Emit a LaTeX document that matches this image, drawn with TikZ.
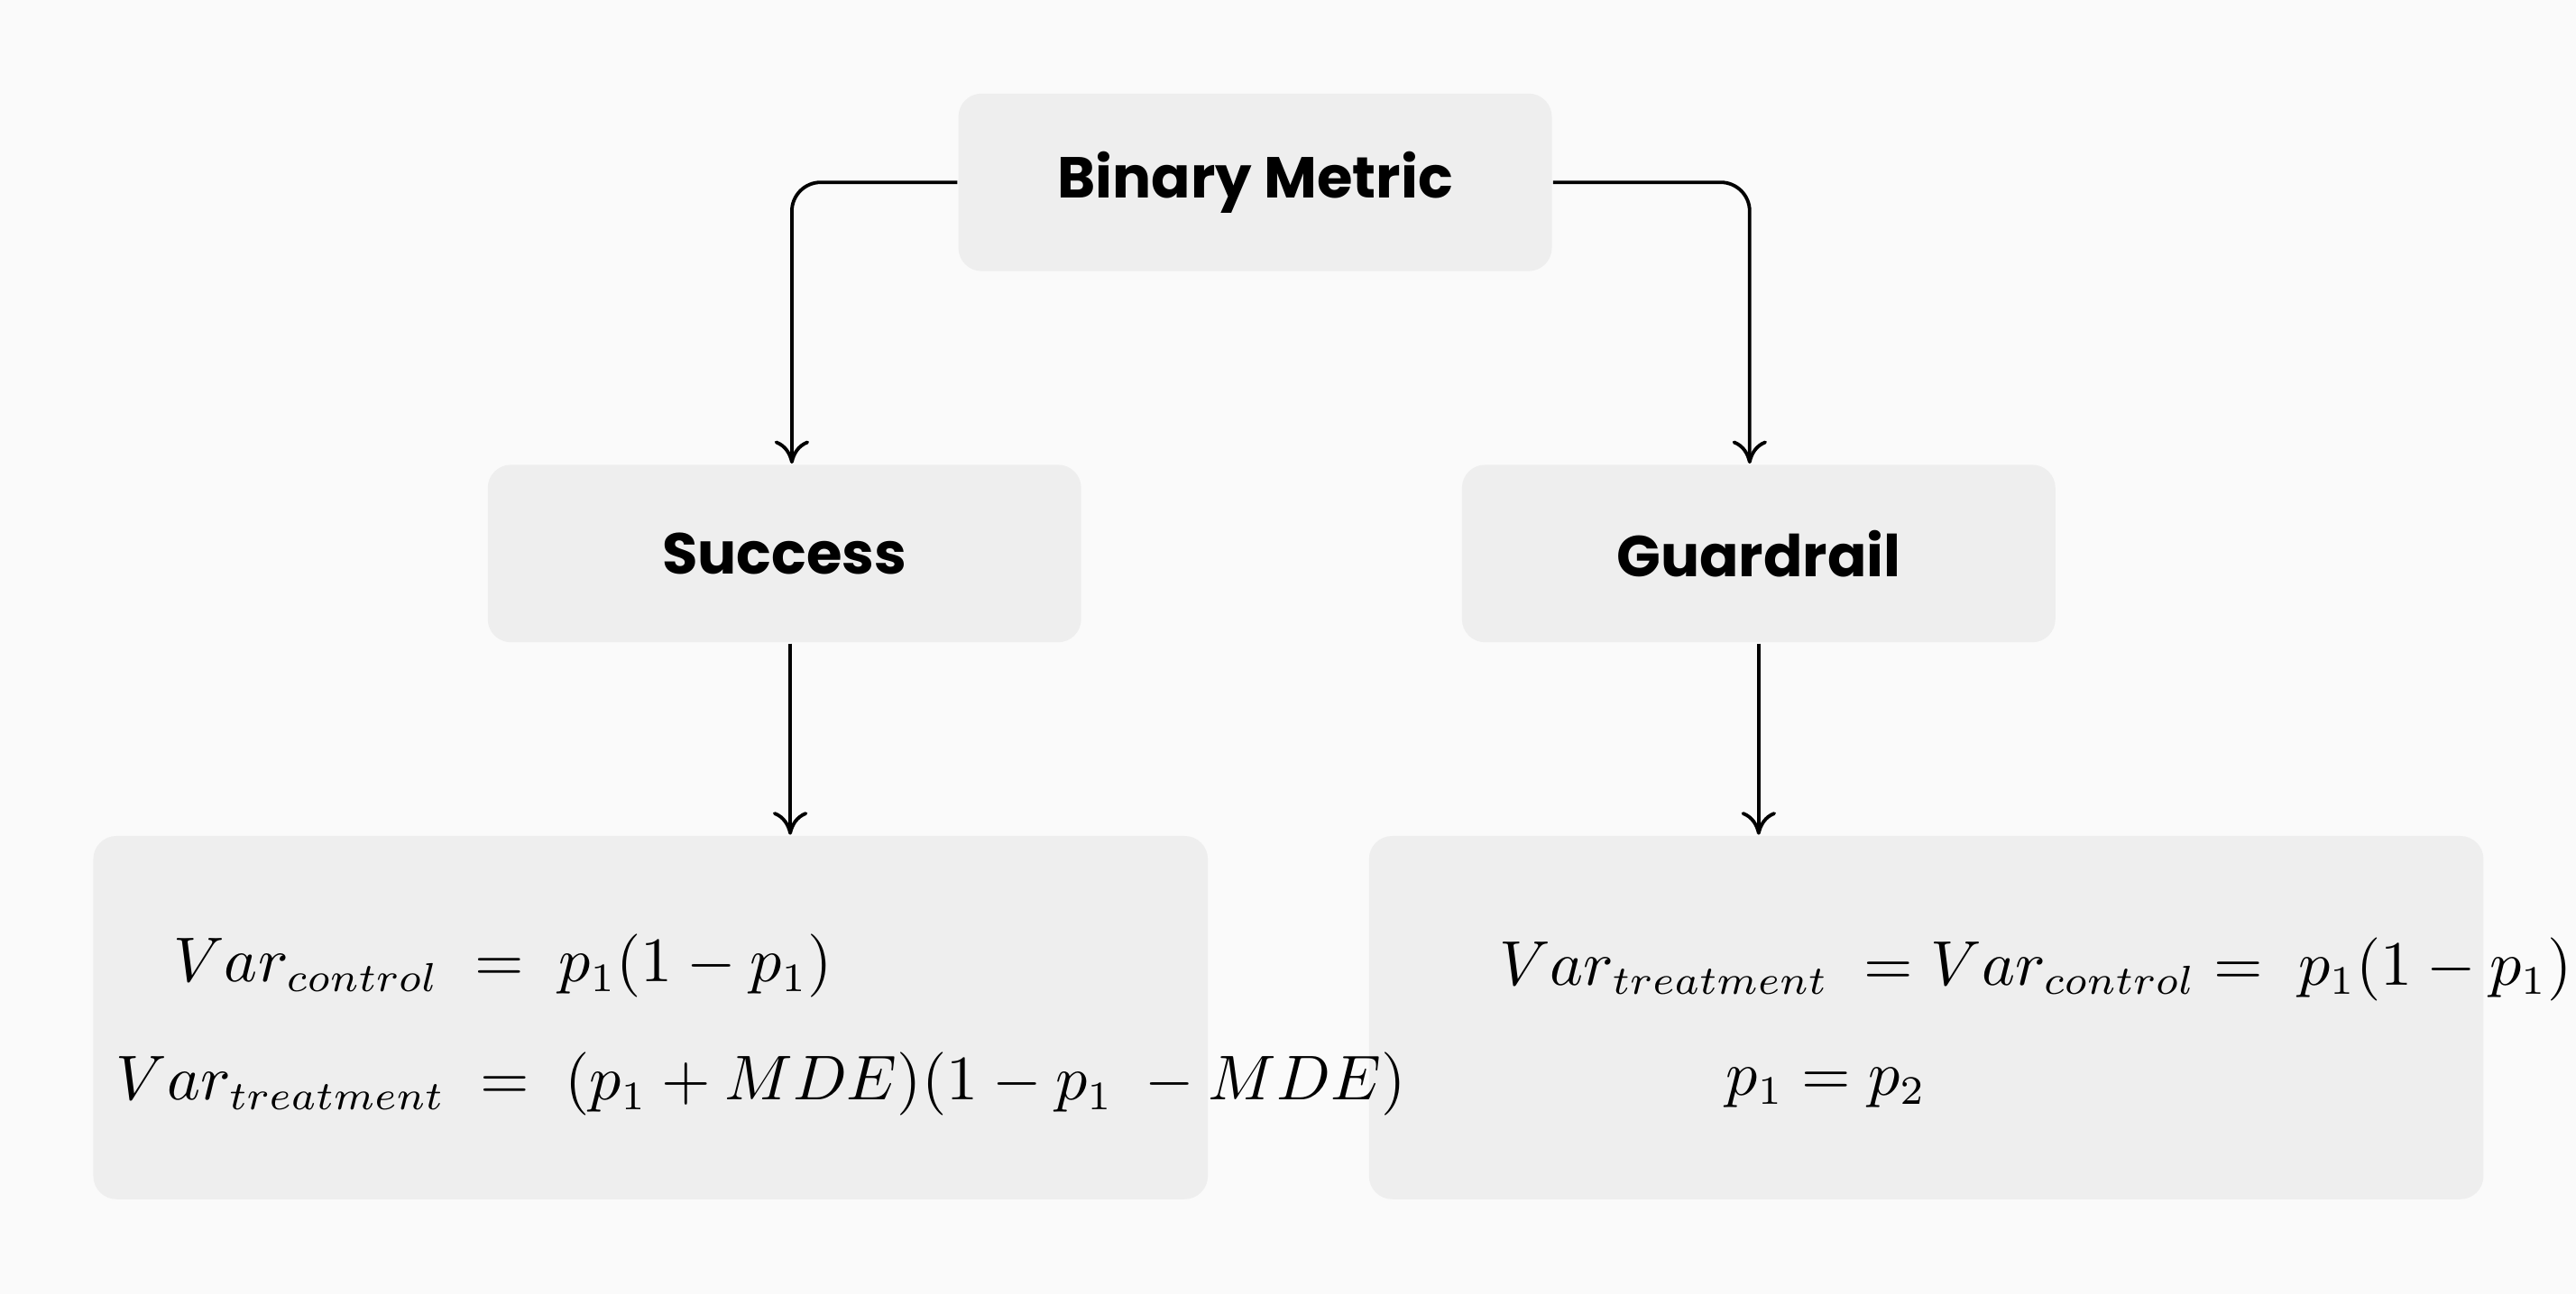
\documentclass[tikz,border=0pt]{standalone}
\usepackage{fontspec}
\setmainfont{Poppins}
\usepackage{amsmath}
\usetikzlibrary{arrows.meta}
\definecolor{boxfill}{HTML}{EEEEEE}
\definecolor{bgfill}{HTML}{FAFAFA}
\tikzstyle{metric}=[rectangle,rounded corners=4pt,fill=boxfill,minimum width=3.61cm,minimum height=1.08cm,font=\fontsize{10}{12}\selectfont\bfseries]
\tikzstyle{formula}=[rectangle,rounded corners=4pt,fill=boxfill,minimum width=6.78cm,minimum height=2.21cm]
\tikzstyle{eq}=[anchor=west,inner sep=0pt,font=\fontsize{10.5}{12}\selectfont]
\tikzstyle{link}=[-{To[length=4pt,width=6pt]},line width=0.6pt,rounded corners=5pt]

\begin{document}
\begin{tikzpicture}[x=0.01cm,y=-0.01cm]
\fill[bgfill] (0,0) rectangle (1568,788);

\node[metric] (bin) at (764,111) {Binary Metric};
\node[metric] (succ) at (477.5,337) {Success};
\node[metric] (guard) at (1070.5,337) {Guardrail};

\node[formula] (fs) at (396,619.5) {};
\node[formula] (fg) at (1172.5,619.5) {};

\node[eq] (s1) at (105,588) {$Var_{control}\;=\;p_1(1-p_1)$};
\node[eq] (s2) at (70,660) {$Var_{treatment}\;=\;(p_1+MDE)(1-p_1\;-MDE)$};
\node[eq] (g1) at (912,590) {$Var_{treatment}\;=Var_{control}=\;p_1(1-p_1)$};
\node[eq] (g2) at (1050,662) {$p_1=p_2$};

\draw[link] (bin.west) -| (succ.north -| 482,0);
\draw[link] (bin.east) -| (guard.north -| 1065,0);
\draw[link] (succ.south -| 481,0) -- (fs.north -| 481,0);
\draw[link] (guard.south) -- (fg.north -| guard.south);
\end{tikzpicture}
\end{document}
